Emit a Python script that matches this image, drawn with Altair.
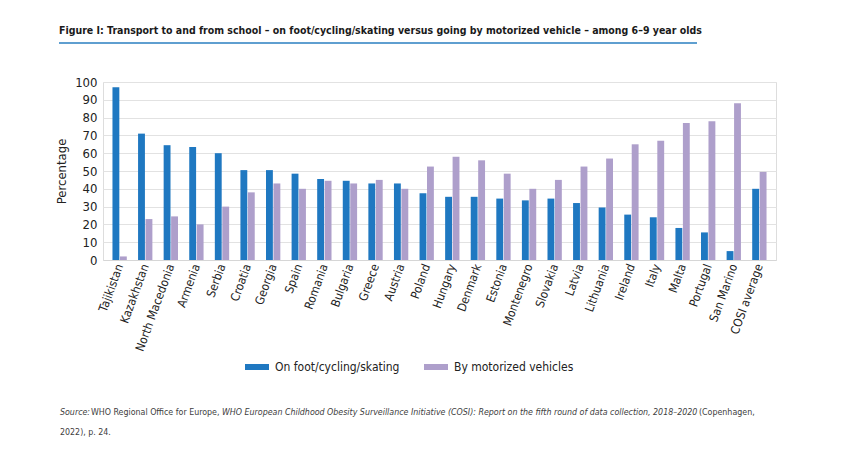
import altair as alt
import pandas as pd

# Countries and the share of 6-9 year olds by mode of transport to/from school (%)
countries = ["Tajikistan", "Kazakhstan", "North Macedonia", "Armenia", "Serbia",
             "Croatia", "Georgia", "Spain", "Romania", "Bulgaria", "Greece",
             "Austria", "Poland", "Hungary", "Denmark", "Estonia", "Montenegro",
             "Slovakia", "Latvia", "Lithuania", "Ireland", "Italy", "Malta",
             "Portugal", "San Marino", "COSI average"]
active = [97, 71, 64.5, 63.5, 60, 50.5, 50.5, 48.5, 45.5, 44.5, 43, 43, 37.5,
          35.5, 35.5, 34.5, 33.5, 34.5, 32, 29.5, 25.5, 24, 18, 15.5, 5, 40]
motor = [2, 23, 24.5, 20, 30, 38, 43, 40, 44.5, 43, 45, 40, 52.5, 58, 56, 48.5,
         40, 45, 52.5, 57, 65, 67, 77, 78, 88, 49.5]
series = ["On foot/cycling/skating", "By motorized vehicles"]
colors = ["#1f78c1", "#ae9fcb"]

title_text = ("Figure I: Transport to and from school \u2013 on foot/cycling/skating "
              "versus going by motorized vehicle \u2013 among 6\u20139 year olds")
source_parts = [
    ("Source:", "italic"),
    ("WHO Regional Office for Europe,", "normal"),
    ("WHO European Childhood Obesity Surveillance Initiative (COSI): Report on the "
     "fifth round of data collection, 2018\u20132020", "italic"),
    ("(Copenhagen,", "normal"),
]
source_line2 = "2022), p. 24."

FONT = "Liberation Sans Narrow, DejaVu Sans Condensed, sans-serif"

rows = []
for c, a, m in zip(countries, active, motor):
    rows.append({"country": c, "series": series[0], "value": a})
    rows.append({"country": c, "series": series[1], "value": m})
df = pd.DataFrame(rows)

W, H = 673, 178

bars = alt.Chart(df).mark_bar().encode(
    x=alt.X("country:N", sort=countries, title=None,
            scale=alt.Scale(paddingInner=0.44, paddingOuter=0.37),
            axis=alt.Axis(labelAngle=-70, labelAlign="right", labelBaseline="middle",
                          labelFontSize=12, labelColor="#222", labelFont=FONT,
                          ticks=False, domainColor="#d6d6d6", labelPadding=4,
                          grid=False)),
    xOffset=alt.XOffset("series:N", sort=series,
                        scale=alt.Scale(paddingInner=0.08)),
    y=alt.Y("value:Q", title="Percentage",
            scale=alt.Scale(domain=[0, 100], nice=False),
            axis=alt.Axis(values=list(range(0, 101, 10)), ticks=False, domain=False,
                          gridColor="#e2e2e2", labelFontSize=13, labelColor="#222",
                          labelFont=FONT, labelPadding=6, titleFont=FONT,
                          titleFontSize=13, titleFontWeight="normal",
                          titleColor="#222", titlePadding=6)),
    color=alt.Color("series:N", sort=series,
                    scale=alt.Scale(domain=series, range=colors),
                    legend=alt.Legend(title=None, orient="none", direction="horizontal",
                                      legendX=142, legendY=273,
                                      symbolType="M-1,-0.25H1V0.25H-1Z",
                                      symbolSize=576, symbolStrokeWidth=0,
                                      labelFont=FONT, labelFontSize=12,
                                      labelColor="#222", labelOffset=6,
                                      columnPadding=24)),
)

title_mark = alt.Chart(pd.DataFrame({"t": [title_text]})).mark_text(
    align="left", baseline="middle", font=FONT, fontSize=10.5, fontWeight="bold",
    color="#1a1a1a"
).encode(text="t:N", x=alt.value(-44), y=alt.value(-51))

underline = alt.Chart(pd.DataFrame({"t": [0]})).mark_rule(
    color="#2a7fc0", strokeWidth=1.5
).encode(x=alt.value(-44), x2=alt.value(594), y=alt.value(-39))

src_x = [-43, -12, 119, 596]
src_layers = []
for (txt, style), xp in zip(source_parts, src_x):
    src_layers.append(
        alt.Chart(pd.DataFrame({"t": [txt]})).mark_text(
            align="left", baseline="middle", font=FONT, fontSize=8.8,
            fontStyle=style, color="#404040"
        ).encode(text="t:N", x=alt.value(xp), y=alt.value(330))
    )
src_layers.append(
    alt.Chart(pd.DataFrame({"t": [source_line2]})).mark_text(
        align="left", baseline="middle", font=FONT, fontSize=8.8, color="#404040"
    ).encode(text="t:N", x=alt.value(-43), y=alt.value(350))
)

chart = alt.layer(bars, title_mark, underline, *src_layers).properties(
    width=W, height=H,
    autosize=alt.AutoSizeParams(type="none"),
    padding={"left": 103, "top": 82, "right": 71, "bottom": 194},
).configure_view(stroke=None).configure(background="white")

chart.save("out.html", embed_options={"renderer": "svg", "actions": False})
